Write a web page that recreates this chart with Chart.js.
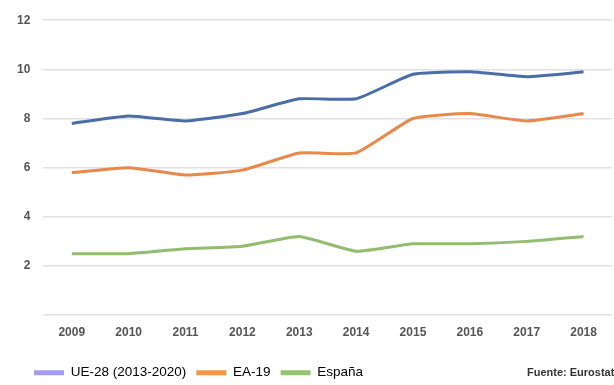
<!DOCTYPE html>
<html>
<head>
<meta charset="utf-8">
<script src="https://cdn.jsdelivr.net/npm/chart.js@4"></script>
<style>
  html, body { margin: 0; padding: 0; background: #fff; }
  #wrap { position: relative; width: 614px; height: 385px; }
  #fuente {
    position: absolute; left: 527px; top: 366px;
    font: bold 11px "Liberation Sans", Arial, sans-serif; color: #333;
    white-space: nowrap;
  }
</style>
</head>
<body>
<div id="wrap">
  <canvas id="grafico" width="614" height="385"></canvas>
  <div id="fuente">Fuente: Eurostat</div>
</div>
<script>
// Datos
const anios = ['2009', '2010', '2011', '2012', '2013', '2014', '2015', '2016', '2017', '2018'];
const ue28 = [7.8, 8.1, 7.9, 8.2, 8.8, 8.8, 9.8, 9.9, 9.7, 9.9];
const ea19 = [5.8, 6.0, 5.7, 5.9, 6.6, 6.6, 8.0, 8.2, 7.9, 8.2];
const espana = [2.5, 2.5, 2.7, 2.8, 3.2, 2.6, 2.9, 2.9, 3.0, 3.2];
const etiquetas = ['UE-28 (2013-2020)', 'EA-19', 'España'];
const ticksY = [0, 2, 4, 6, 8, 10, 12];

const colLineas = ['#4a6da8', '#e8884a', '#93bd6e'];
const colLeyenda = ['#a29cf2', '#f0974a', '#93c46e'];

// mover la leyenda a su sitio (empieza más a la derecha que el eje)
const moverLeyenda = {
    id: 'moverLeyenda',
    beforeDraw(chart) {
        const lg = chart.legend;
        lg.left = 24;
        lg.right = 600;
        lg.top = 356;
        lg.bottom = 385;
    }
};

const ctx = document.getElementById('grafico').getContext('2d');
new Chart(ctx, {
    type: 'line',
    data: {
        labels: anios,
        datasets: [ue28, ea19, espana].map((serie, i) => ({
            label: etiquetas[i],
            data: serie,
            borderColor: colLineas[i],
            backgroundColor: colLeyenda[i],
            borderWidth: 3,
            pointRadius: 0,
            tension: 0.15
        }))
    },
    plugins: [moverLeyenda],
    options: {
        responsive: false,
        animation: false,
        events: [],
        layout: { padding: { left: 4, right: 2, top: 19, bottom: 10 } },
        plugins: {
            legend: {
                position: 'bottom',
                align: 'start',
                labels: {
                    boxWidth: 30,
                    boxHeight: 5,
                    padding: 10,
                    color: '#6a6a6a',
                    font: { family: 'Liberation Sans', size: 13.5 },
                    generateLabels: chart => chart.data.datasets.map((d, i) => ({
                        text: d.label,
                        fillStyle: colLeyenda[i],
                        strokeStyle: colLeyenda[i],
                        lineWidth: 0,
                        datasetIndex: i
                    }))
                }
            },
            tooltip: { enabled: false }
        },
        scales: {
            x: {
                offset: true,
                grid: { display: false },
                border: { display: false },
                ticks: { color: '#555', font: { family: 'Liberation Sans', size: 12, weight: 'bold' }, padding: 2 }
            },
            y: {
                min: 0,
                max: 12,
                afterBuildTicks: axis => { axis.ticks = ticksY.map(v => ({ value: v })); },
                grid: { color: '#e2e2e2', lineWidth: 1.5, drawTicks: false },
                border: { display: false },
                ticks: {
                    color: '#555',
                    padding: 13,
                    font: { family: 'Liberation Sans', size: 12, weight: 'bold' },
                    callback: v => v === 0 ? '' : v
                }
            }
        }
    }
});
</script>
</body>
</html>
